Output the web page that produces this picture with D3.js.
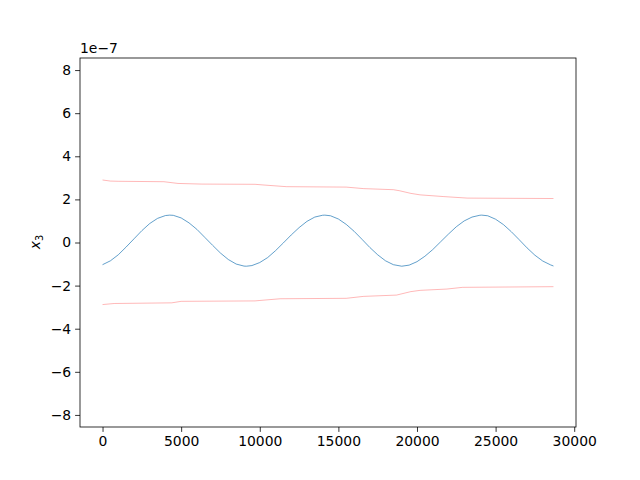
<!DOCTYPE html>
<html><head><meta charset="utf-8">
<script src="https://cdn.jsdelivr.net/npm/d3@7"></script>
<style>body{margin:0;background:#fff}svg{display:block}text{font-family:"DejaVu Sans",sans-serif}</style>
</head><body><svg id="c" width="640" height="480"></svg>
<script>
// values in units of 1e-7
const signalX = [0,500,1000,1500,2000,2500,3000,3500,4000,4270,4500,5000,5500,6000,6500,7000,7500,8000,8500,9000,9150,9500,10000,10500,11000,11500,12000,12500,13000,13500,14000,14140,14500,15000,15500,16000,16500,17000,17500,18000,18500,19030,19500,20000,20500,21000,21500,22000,22500,23000,23500,24000,24120,24500,25000,25500,26000,26500,27000,27500,28000,28500,28680];
const signalY = [-1.03,-0.85,-0.57,-0.21,0.17,0.55,0.88,1.12,1.25,1.27,1.26,1.14,0.91,0.61,0.24,-0.13,-0.49,-0.79,-1.00,-1.095,-1.10,-1.07,-0.93,-0.70,-0.38,-0.02,0.35,0.69,0.98,1.18,1.265,1.27,1.24,1.09,0.84,0.52,0.15,-0.23,-0.57,-0.85,-1.03,-1.10,-1.05,-0.89,-0.64,-0.33,0.03,0.39,0.73,1.00,1.18,1.265,1.27,1.24,1.08,0.83,0.50,0.13,-0.25,-0.59,-0.86,-1.04,-1.09];
const upperX = [0,500,1000,3900,4800,6300,9700,10200,11700,15500,16600,18500,18900,19600,20200,21700,23200,28680];
const upperY = [2.90,2.85,2.84,2.82,2.74,2.71,2.70,2.67,2.59,2.57,2.50,2.45,2.40,2.28,2.21,2.13,2.06,2.04];
const lowerX = [0,750,4400,5000,9700,10000,11300,15500,16600,18700,19600,20200,21900,22900,28680];
const lowerY = [-2.88,-2.83,-2.80,-2.73,-2.71,-2.69,-2.61,-2.59,-2.50,-2.44,-2.28,-2.22,-2.16,-2.08,-2.05];
const xTicks = [0,5000,10000,15000,20000,25000,30000];
const yTicks = [-8,-6,-4,-2,0,2,4,6,8];
const yLimit = 8.56;

const svg = d3.select("#c");
const L=80,R=576,T=58,B=427;
const xMax = d3.max(signalX), pad = xMax*0.05;
const x = d3.scaleLinear().domain([-pad, xMax+pad]).range([L,R]);
const y = d3.scaleLinear().domain([-yLimit, yLimit]).range([B,T]);

const line = (xs, ys) => d3.line().x((d,i)=>x(xs[i])).y((d,i)=>y(ys[i]))(xs);

const g = svg.append("g");
g.append("path").attr("d", line(upperX, upperY)).attr("fill","none").attr("stroke","#ff0000").attr("stroke-opacity",0.4).attr("stroke-width",0.7);
g.append("path").attr("d", line(lowerX, lowerY)).attr("fill","none").attr("stroke","#ff0000").attr("stroke-opacity",0.4).attr("stroke-width",0.7);
g.append("path").attr("d", line(signalX, signalY)).attr("fill","none").attr("stroke","#1f77b4").attr("stroke-width",0.7);

const fmt = d => String(d).replace("-", "\u2212");
const xa = svg.append("g").attr("transform",`translate(0,${B})`).call(d3.axisBottom(x).tickValues(xTicks).tickFormat(fmt).tickSize(4.9).tickPadding(4));
const ya = svg.append("g").attr("transform",`translate(${L},0)`).call(d3.axisLeft(y).tickValues(yTicks).tickFormat(fmt).tickSize(4.9).tickPadding(4));
[xa,ya].forEach(a=>{a.select(".domain").remove();a.selectAll("text").attr("font-size","13.9px").attr("font-family","DejaVu Sans").attr("fill","#000");a.selectAll("line").attr("stroke","#000").attr("stroke-width",0.8);});

svg.append("rect").attr("x",L).attr("y",T).attr("width",R-L).attr("height",B-T).attr("fill","none").attr("stroke","#000").attr("stroke-width",0.8);

svg.append("text").attr("x",L).attr("y",T-5).attr("font-size","13.9px").text("1e\u22127");

const yl = svg.append("text").attr("transform","translate(40,242) rotate(-90)").attr("text-anchor","middle").attr("font-size","13.9px");
yl.append("tspan").attr("font-style","italic").text("x");
yl.append("tspan").attr("font-size","9.7px").attr("dy","3").text("3");
</script></body></html>
